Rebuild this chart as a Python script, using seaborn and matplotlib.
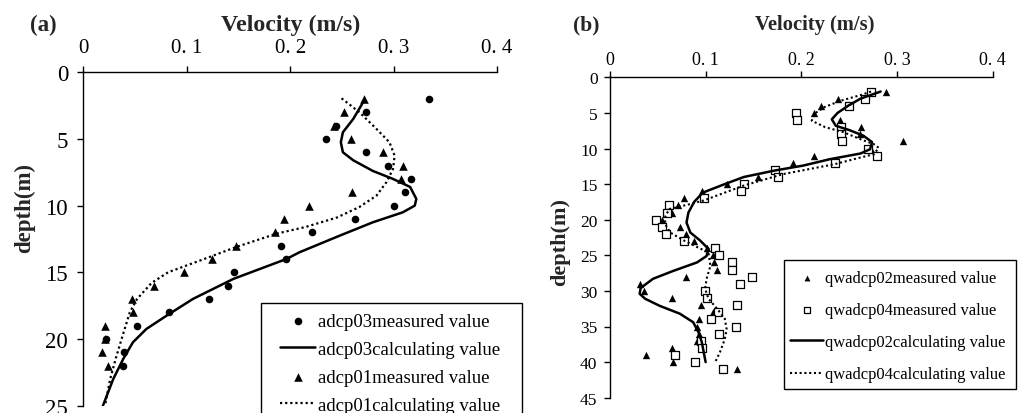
import matplotlib
matplotlib.use("Agg")
import matplotlib.pyplot as plt
from matplotlib.patches import Rectangle
import seaborn as sns

# ---------------- panel (a) data ----------------
depth_a = list(range(2, 23))
adcp03_measured = [0.334, 0.273, 0.244, 0.235, 0.273, 0.295, 0.317, 0.311, 0.300, 0.263, 0.221,
                   0.191, 0.196, 0.146, 0.140, 0.122, 0.083, 0.052, 0.022, 0.039, 0.038]
adcp01_measured = [0.271, 0.252, 0.242, 0.259, 0.290, 0.309, 0.307, 0.260, 0.218, 0.194, 0.185,
                   0.148, 0.124, 0.097, 0.068, 0.047, 0.048, 0.021, 0.021, 0.018, 0.024]

adcp03_calc_depth = [2.25, 3.5, 4.5, 5.25, 6.0, 6.6, 7.4, 8.0, 8.6, 9.5, 10.0, 10.5, 11.25, 12.25,
                     13.5, 14.0, 15.5, 17.0, 18.25, 19.25, 20.25, 21.5, 23.0, 25.0]
adcp03_calc_vel = [0.2705, 0.261, 0.251, 0.249, 0.251, 0.261, 0.280, 0.2995, 0.316, 0.322, 0.3205,
                   0.309, 0.280, 0.248, 0.209, 0.1965, 0.145, 0.106, 0.0806, 0.061, 0.048, 0.0386,
                   0.029, 0.019]

adcp01_calc_depth = [1.95, 3.0, 4.25, 5.25, 6.25, 7.25, 8.25, 9.25, 10.1, 10.9, 11.6, 12.1, 13.1,
                     14.0, 15.0, 15.8, 17.0, 18.0, 19.5, 21.3, 23.0, 25.0]
adcp01_calc_vel = [0.2497, 0.267, 0.2835, 0.296, 0.301, 0.2995, 0.293, 0.2835, 0.267, 0.245, 0.215,
                   0.187, 0.148, 0.117, 0.082, 0.066, 0.052, 0.045, 0.039, 0.032, 0.026, 0.021]

# ---------------- panel (b) data ----------------
depth_b02 = list(range(2, 42))
qwadcp02_measured = [0.289, 0.238, 0.221, 0.213, 0.241, 0.262, 0.261, 0.306, 0.273, 0.213,
                     0.191, 0.173, 0.155, 0.122, 0.096, 0.077, 0.071, 0.065, 0.054, 0.073,
                     0.079, 0.088, 0.101, 0.108, 0.109, 0.112, 0.079, 0.031, 0.036, 0.065,
                     0.095, 0.108, 0.093, 0.091, 0.093, 0.091, 0.065, 0.038, 0.066, 0.133]
depth_b04 = list(range(2, 42))
qwadcp04_measured = [0.273, 0.267, 0.250, 0.195, 0.196, 0.242, 0.242, 0.243, 0.270, 0.279,
                     0.235, 0.173, 0.176, 0.140, 0.137, 0.098, 0.062, 0.060, 0.048, 0.054,
                     0.059, 0.077, 0.110, 0.114, 0.128, 0.128, 0.148, 0.136, 0.099, 0.101,
                     0.133, 0.113, 0.106, 0.132, 0.114, 0.095, 0.096, 0.068, 0.089, 0.118]

qwadcp02_calc_depth = [2.0, 3.0, 4.0, 5.0, 5.9, 6.8, 7.4, 8.2, 9.1, 10.1, 10.7, 11.5, 12.4, 13.1,
                       14.0, 15.0, 16.2, 17.5, 19.0, 20.4, 21.8, 22.9, 24.1, 25.1, 26.0, 27.2,
                       28.3, 29.6, 30.4, 31.1, 32.1, 33.2, 34.4, 35.8, 37.2, 38.6, 40.0]
qwadcp02_calc_vel = [0.283, 0.262, 0.249, 0.238, 0.232, 0.236, 0.250, 0.265, 0.274, 0.272, 0.262,
                     0.230, 0.202, 0.172, 0.140, 0.120, 0.097, 0.088, 0.082, 0.080, 0.084, 0.094,
                     0.103, 0.101, 0.091, 0.066, 0.045, 0.032, 0.031, 0.0367, 0.052, 0.073, 0.087,
                     0.0925, 0.096, 0.098, 0.100]

qwadcp04_calc_depth = [2.0, 2.5, 3.3, 4.2, 5.1, 6.1, 7.0, 7.7, 8.7, 9.4, 9.9, 10.8, 11.5, 12.2,
                       13.6, 15.2, 16.6, 17.3, 17.8, 18.5, 19.5, 20.6, 21.8, 22.9, 23.9, 24.6,
                       26.5, 28.3, 29.7, 31.1, 32.5, 33.9, 35.4, 36.8, 38.6, 40.0]
qwadcp04_calc_vel = [0.273, 0.262, 0.241, 0.224, 0.214, 0.211, 0.225, 0.244, 0.262, 0.276, 0.281,
                     0.276, 0.255, 0.235, 0.181, 0.140, 0.112, 0.098, 0.084, 0.062, 0.058, 0.0576,
                     0.063, 0.077, 0.092, 0.103, 0.105, 0.101, 0.0995, 0.103, 0.112, 0.120, 0.122,
                     0.120, 0.115, 0.110]

x_ticks = [0, 0.1, 0.2, 0.3, 0.4]
x_tick_labels = ["0", "0. 1", "0. 2", "0. 3", "0. 4"]
y_ticks_a = [0, 5, 10, 15, 20, 25]
y_ticks_b = [0, 5, 10, 15, 20, 25, 30, 35, 40, 45]

# ---------------- style ----------------
sns.set_style("white")
plt.rcParams["font.family"] = ["Liberation Serif", "DejaVu Serif"]
plt.rcParams["axes.edgecolor"] = "black"
plt.rcParams["axes.linewidth"] = 1.0

W, H = 1021, 414
fig = plt.figure(figsize=(W / 100, H / 100), dpi=100)


def frac_box(left, top, right, bottom):
    return [left / W, 1 - bottom / H, (right - left) / W, (bottom - top) / H]


ax_a = fig.add_axes(frac_box(83.3, 73.3, 497, 406.6))
ax_b = fig.add_axes(frac_box(610, 78.3, 992.5, 398.7))

dot = (0, (1.0, 1.3))

# panel (a)
sns.scatterplot(x=adcp03_measured, y=depth_a, marker="o", s=30, color="black",
                edgecolor="black", linewidth=0, ax=ax_a, label="adcp03measured value")
sns.lineplot(x=adcp03_calc_vel, y=adcp03_calc_depth, sort=False, estimator=None, color="black",
             lw=1.8, ax=ax_a, label="adcp03calculating value")
sns.scatterplot(x=adcp01_measured, y=depth_a, marker="^", s=38, color="black",
                edgecolor="black", linewidth=0, ax=ax_a, label="adcp01measured value")
sns.lineplot(x=adcp01_calc_vel, y=adcp01_calc_depth, sort=False, estimator=None, color="black",
             lw=1.6, linestyle=dot, ax=ax_a, label="adcp01calculating value")

# panel (b)
sns.scatterplot(x=qwadcp02_measured, y=depth_b02, marker="^", s=28, color="black",
                edgecolor="black", linewidth=0, ax=ax_b, label="qwadcp02measured value")
sns.scatterplot(x=qwadcp04_measured, y=depth_b04, marker="s", s=26, color="white",
                edgecolor="black", linewidth=0.9, ax=ax_b, label="qwadcp04measured value")
sns.lineplot(x=qwadcp02_calc_vel, y=qwadcp02_calc_depth, sort=False, estimator=None,
             color="black", lw=1.8, ax=ax_b, label="qwadcp02calculating value")
sns.lineplot(x=qwadcp04_calc_vel, y=qwadcp04_calc_depth, sort=False, estimator=None,
             color="black", lw=1.5, linestyle=dot, ax=ax_b, label="qwadcp04calculating value")

for ax, yt, ymax, tfs_x, tfs_y, padx, pady in [
        (ax_a, y_ticks_a, 25, 15, 16.5, 7, 7),
        (ax_b, y_ticks_b, 45, 13, 12.5, 2.5, 5)]:
    ax.set_xlim(0, 0.4)
    ax.set_ylim(ymax, 0)
    ax.set_xticks(x_ticks)
    ax.set_xticklabels(x_tick_labels)
    ax.set_yticks(yt)
    ax.xaxis.tick_top()
    for side in ("bottom", "right"):
        ax.spines[side].set_visible(False)
    ax.tick_params(axis="x", which="major", direction="out", length=4, width=1,
                   labelsize=tfs_x, pad=padx, colors="black", top=True, bottom=False)
    ax.tick_params(axis="y", which="major", direction="out", length=4, width=1,
                   labelsize=tfs_y, pad=pady, colors="black", left=True)
    ax.set_xlabel("")
    ax.set_ylabel("")
    ax.grid(False)
    ax.patch.set_alpha(0)

# axis titles and panel letters
fig.text(290.5 / W, 1 - 25 / H, "Velocity (m/s)", fontsize=17.2, fontweight="bold",
         ha="center", va="center")
fig.text(814.5 / W, 1 - 25 / H, "Velocity (m/s)", fontsize=14.8, fontweight="bold",
         ha="center", va="center")
fig.text(43.5 / W, 1 - 25 / H, "(a)", fontsize=16.5, fontweight="bold", ha="center", va="center")
fig.text(586.5 / W, 1 - 25 / H, "(b)", fontsize=15.5, fontweight="bold", ha="center", va="center")
fig.text(25 / W, 1 - 208 / H, "depth(m)", fontsize=16.5, fontweight="bold", rotation=90,
         ha="center", va="center")
fig.text(560 / W, 1 - 242 / H, "depth(m)", fontsize=16, fontweight="bold", rotation=90,
         ha="center", va="center")

# legend boxes (white, black border), drawn over the plotting area
box_a = Rectangle((261 / W, 1 - 440 / H), (522 - 261) / W, (440 - 304) / H,
                  transform=fig.transFigure, facecolor="white", edgecolor="black",
                  linewidth=1.0, zorder=2)
box_b = Rectangle((784 / W, 1 - 390 / H), (1016 - 784) / W, (390 - 261) / H,
                  transform=fig.transFigure, facecolor="white", edgecolor="black",
                  linewidth=1.0, zorder=2)
fig.add_artist(box_a)
fig.add_artist(box_b)

h_a, l_a = ax_a.get_legend_handles_labels()
h_b, l_b = ax_b.get_legend_handles_labels()
for ax in (ax_a, ax_b):
    if ax.get_legend() is not None:
        ax.get_legend().remove()

leg_a = fig.legend(h_a, l_a, loc="upper left", bbox_to_anchor=(280 / W, 1 - 313.5 / H),
                   borderaxespad=0, borderpad=0, frameon=False, fontsize=13.5,
                   handlelength=1.87, handletextpad=0.16, labelspacing=0.58)
leg_b = fig.legend(h_b, l_b, loc="upper left", bbox_to_anchor=(790 / W, 1 - 271 / H),
                   borderaxespad=0, borderpad=0, frameon=False, fontsize=11.9,
                   handlelength=2.0, handletextpad=0.12, labelspacing=0.975, markerscale=0.8)
for leg in (leg_a, leg_b):
    leg.set_zorder(3)
    for t in leg.get_texts():
        t.set_color("black")

fig.savefig("out.png", dpi=100, facecolor="white")
